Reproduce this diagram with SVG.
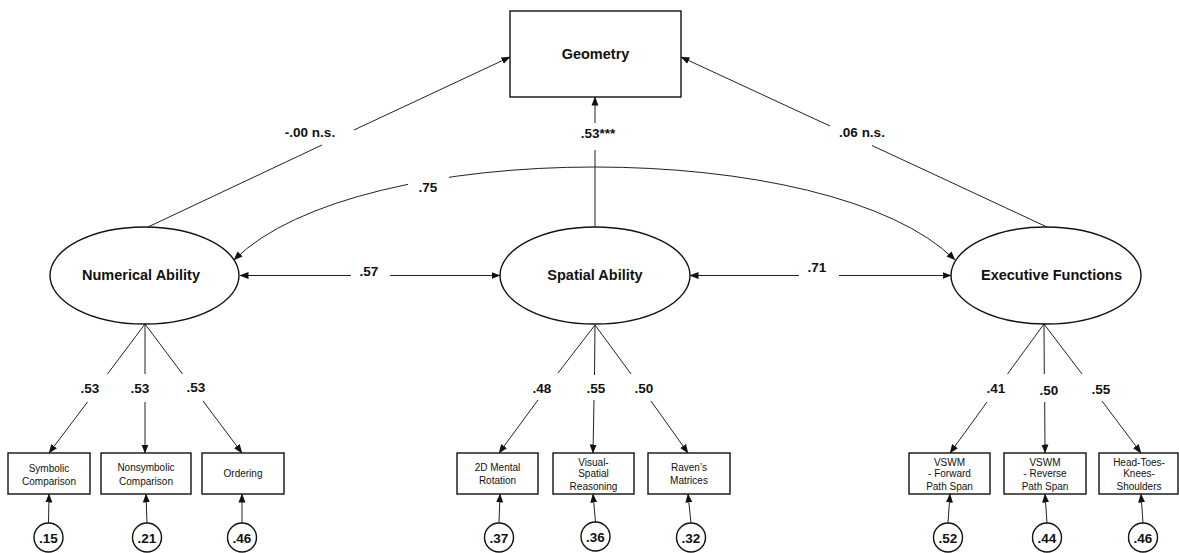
<svg xmlns="http://www.w3.org/2000/svg" width="1179" height="553" viewBox="0 0 1179 553">
<defs>
<marker id="ah" markerUnits="userSpaceOnUse" markerWidth="9" markerHeight="8" refX="8.5" refY="3.5" orient="auto-start-reverse" viewBox="0 0 9 7">
<path d="M0,0 L9,3.5 L0,7 z" fill="#111"/>
</marker>
</defs>
<style>
.bg{fill:#fff}
.shape{fill:#fff;stroke:#111;stroke-width:1.4}
.ln{fill:none;stroke:#222;stroke-width:1}
.arr{marker-end:url(#ah)}
.bi{marker-start:url(#ah);marker-end:url(#ah)}
.lat{font-family:"Liberation Sans",Arial,Helvetica,sans-serif;font-weight:bold;font-size:14.5px;fill:#111;text-anchor:middle}
.lbl{font-family:"Liberation Sans",Arial,Helvetica,sans-serif;font-weight:bold;font-size:13.5px;fill:#111;text-anchor:middle}
.obs{font-family:"Liberation Sans",Arial,Helvetica,sans-serif;font-size:10px;fill:#111;text-anchor:middle}
</style>
<rect class="bg" x="0" y="0" width="1179" height="553"/>

<g id="connectors">
  <!-- structural paths to Geometry -->
  <line class="ln" x1="148" y1="227" x2="322" y2="145"/>
  <line class="ln arr" x1="354" y1="130" x2="510" y2="57"/>
  <line class="ln" x1="595" y1="227" x2="595" y2="150"/>
  <line class="ln arr" x1="595" y1="123" x2="595" y2="97"/>
  <line class="ln" x1="1047" y1="227" x2="872" y2="145.5"/>
  <line class="ln arr" x1="830" y1="126" x2="681" y2="57"/>
  <!-- covariances -->
  <path class="ln bi" d="M234,260 C358,136 831,136 955,260"/>
  <rect class="bg" x="408" y="172" width="41" height="21"/>
  <line class="ln" x1="351" y1="275.5" x2="240" y2="275.5" marker-end="url(#ah)"/>
  <line class="ln arr" x1="390" y1="275.5" x2="500" y2="275.5"/>
  <line class="ln" x1="799" y1="275.5" x2="690" y2="275.5" marker-end="url(#ah)"/>
  <line class="ln arr" x1="839" y1="275.5" x2="951" y2="275.5"/>
  <!-- numerical loadings -->
  <line class="ln" x1="145" y1="324" x2="107.5" y2="374"/>
  <line class="ln arr" x1="87.5" y1="402" x2="49" y2="453"/>
  <line class="ln" x1="145" y1="324" x2="145" y2="374"/>
  <line class="ln arr" x1="145" y1="402" x2="145" y2="453"/>
  <line class="ln" x1="145" y1="324" x2="182.5" y2="374"/>
  <line class="ln arr" x1="203" y1="401" x2="242" y2="453"/>
  <!-- spatial loadings -->
  <line class="ln" x1="595" y1="325" x2="558" y2="373"/>
  <line class="ln arr" x1="538" y1="400" x2="499" y2="453"/>
  <line class="ln" x1="595" y1="325" x2="594.5" y2="375"/>
  <line class="ln arr" x1="594" y1="400" x2="593" y2="453"/>
  <line class="ln" x1="595" y1="325" x2="631" y2="374"/>
  <line class="ln arr" x1="651" y1="401" x2="688" y2="453"/>
  <!-- executive loadings -->
  <line class="ln" x1="1044" y1="324" x2="1007.5" y2="374"/>
  <line class="ln arr" x1="987" y1="402" x2="950" y2="453"/>
  <line class="ln" x1="1044" y1="324" x2="1044.3" y2="374"/>
  <line class="ln arr" x1="1044.7" y1="402" x2="1045" y2="453"/>
  <line class="ln" x1="1044" y1="324" x2="1082" y2="374"/>
  <line class="ln arr" x1="1102" y1="401" x2="1141" y2="453"/>
  <!-- error terms -->
  <line class="ln arr" x1="48.5" y1="523" x2="49" y2="494"/>
  <line class="ln arr" x1="147" y1="523" x2="146" y2="494"/>
  <line class="ln arr" x1="242" y1="523" x2="242" y2="494"/>
  <line class="ln arr" x1="499" y1="523" x2="500" y2="494"/>
  <line class="ln arr" x1="595.5" y1="522" x2="593" y2="494"/>
  <line class="ln arr" x1="691" y1="523" x2="688" y2="494"/>
  <line class="ln arr" x1="948" y1="523" x2="950" y2="494"/>
  <line class="ln arr" x1="1047" y1="523" x2="1045" y2="494"/>
  <line class="ln arr" x1="1143" y1="523" x2="1141" y2="494"/>
  <!-- path labels -->
  <text class="lbl" x="310" y="137">-.00 n.s.</text>
  <text class="lbl" x="598" y="138">.53***</text>
  <text class="lbl" x="862" y="137">.06 n.s.</text>
  <text class="lbl" x="428" y="192">.75</text>
  <text class="lbl" x="369" y="275.5">.57</text>
  <text class="lbl" x="817" y="271.5">.71</text>
  <text class="lbl" x="90" y="393">.53</text>
  <text class="lbl" x="140" y="393">.53</text>
  <text class="lbl" x="196" y="392">.53</text>
  <text class="lbl" x="542" y="393">.48</text>
  <text class="lbl" x="596" y="393">.55</text>
  <text class="lbl" x="644" y="393">.50</text>
  <text class="lbl" x="996" y="393">.41</text>
  <text class="lbl" x="1049" y="395">.50</text>
  <text class="lbl" x="1101" y="394">.55</text>
</g>

<g id="geometry">
  <rect class="shape" x="510" y="11" width="171" height="86"/>
  <text class="lat" x="595.5" y="58.5">Geometry</text>
</g>

<g id="numerical-ability">
  <ellipse class="shape" cx="144.5" cy="275.5" rx="94.5" ry="48.5"/>
  <text class="lat" x="141" y="279.5">Numerical Ability</text>
</g>
<g id="spatial-ability">
  <ellipse class="shape" cx="595" cy="275.5" rx="95" ry="48.5"/>
  <text class="lat" x="595" y="279.5">Spatial Ability</text>
</g>
<g id="executive-functions">
  <ellipse class="shape" cx="1046" cy="275.5" rx="95" ry="48.5"/>
  <text class="lat" x="1051.5" y="279.5">Executive Functions</text>
</g>

<g id="symbolic-comparison">
  <rect class="shape" x="8" y="453" width="82" height="41"/>
  <text class="obs" x="49" y="471.5">Symbolic</text>
  <text class="obs" x="49" y="484.5">Comparison</text>
</g>
<g id="nonsymbolic-comparison">
  <rect class="shape" x="101" y="453" width="90" height="41"/>
  <text class="obs" x="146" y="471">Nonsymbolic</text>
  <text class="obs" x="146" y="484.5">Comparison</text>
</g>
<g id="ordering">
  <rect class="shape" x="202" y="453" width="82" height="41"/>
  <text class="obs" x="243" y="476.5">Ordering</text>
</g>
<g id="mental-rotation">
  <rect class="shape" x="457" y="453" width="81" height="41"/>
  <text class="obs" x="497.5" y="471">2D Mental</text>
  <text class="obs" x="497.5" y="484">Rotation</text>
</g>
<g id="visual-spatial-reasoning">
  <rect class="shape" x="553" y="453" width="81" height="41"/>
  <text class="obs" x="593.5" y="465.5">Visual-</text>
  <text class="obs" x="593.5" y="477">Spatial</text>
  <text class="obs" x="593.5" y="489.5">Reasoning</text>
</g>
<g id="ravens-matrices">
  <rect class="shape" x="648" y="453" width="82" height="41"/>
  <text class="obs" x="689" y="471">Raven’s</text>
  <text class="obs" x="689" y="484">Matrices</text>
</g>
<g id="vswm-forward">
  <rect class="shape" x="909" y="453" width="81" height="41"/>
  <text class="obs" x="949.5" y="465.5">VSWM</text>
  <text class="obs" x="949.5" y="477">- Forward</text>
  <text class="obs" x="949.5" y="489.5">Path Span</text>
</g>
<g id="vswm-reverse">
  <rect class="shape" x="1004" y="453" width="82" height="41"/>
  <text class="obs" x="1045" y="465.5">VSWM</text>
  <text class="obs" x="1045" y="477">- Reverse</text>
  <text class="obs" x="1045" y="489.5">Path Span</text>
</g>
<g id="head-toes-knees-shoulders">
  <rect class="shape" x="1099" y="453" width="79" height="41"/>
  <text class="obs" x="1139" y="465.5">Head-Toes-</text>
  <text class="obs" x="1139" y="477">Knees-</text>
  <text class="obs" x="1139" y="489.5">Shoulders</text>
</g>

<g id="e1"><circle class="shape" cx="48.5" cy="537.5" r="14.5"/><text class="lbl" x="48.5" y="542.5">.15</text></g>
<g id="e2"><circle class="shape" cx="147" cy="537.5" r="14.5"/><text class="lbl" x="147" y="542.5">.21</text></g>
<g id="e3"><circle class="shape" cx="242" cy="537.5" r="14.5"/><text class="lbl" x="242" y="542.5">.46</text></g>
<g id="e4"><circle class="shape" cx="499" cy="537.5" r="14.5"/><text class="lbl" x="499" y="542.5">.37</text></g>
<g id="e5"><circle class="shape" cx="595.5" cy="536.5" r="14.5"/><text class="lbl" x="595.5" y="541.5">.36</text></g>
<g id="e6"><circle class="shape" cx="691" cy="537.5" r="14.5"/><text class="lbl" x="691" y="542.5">.32</text></g>
<g id="e7"><circle class="shape" cx="948" cy="537.5" r="14.5"/><text class="lbl" x="948" y="542.5">.52</text></g>
<g id="e8"><circle class="shape" cx="1047" cy="537.5" r="14.5"/><text class="lbl" x="1047" y="542.5">.44</text></g>
<g id="e9"><circle class="shape" cx="1143" cy="537.5" r="14.5"/><text class="lbl" x="1143" y="542.5">.46</text></g>
</svg>
